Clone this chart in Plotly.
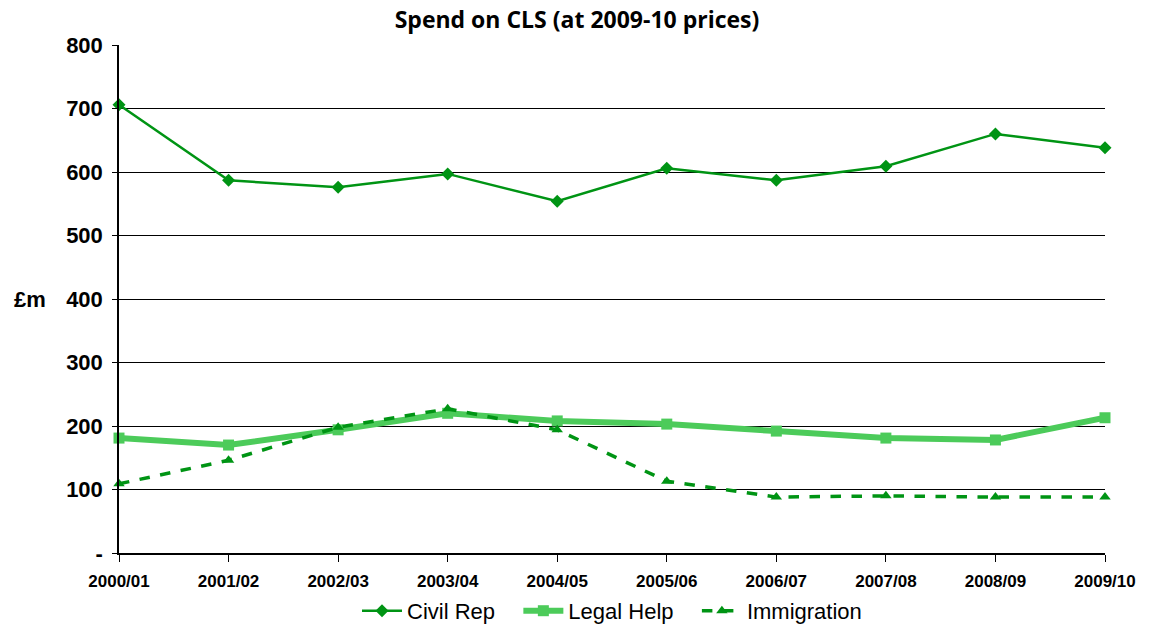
import plotly.graph_objects as go

years = ["2000/01", "2001/02", "2002/03", "2003/04", "2004/05",
         "2005/06", "2006/07", "2007/08", "2008/09", "2009/10"]
civil_rep = [706, 587, 576, 597, 554, 606, 587, 609, 660, 638]
legal_help = [181, 170, 194, 220, 208, 203, 192, 181, 178, 213]
immigration = [109, 146, 198, 227, 194, 113, 88, 90, 88, 88]
y_ticks = [0, 100, 200, 300, 400, 500, 600, 700, 800]
y_tick_labels = ["-", "100", "200", "300", "400", "500", "600", "700", "800"]

pad = "\u00a0\u00a0\u00a0"
fig = go.Figure()
fig.add_trace(go.Scatter(
    x=years, y=civil_rep, name="Civil Rep" + pad, mode="lines+markers",
    line=dict(color="#009414", width=2.5),
    marker=dict(symbol="diamond", size=10, color="#009414"),
    cliponaxis=False))
fig.add_trace(go.Scatter(
    x=years, y=legal_help, name="Legal Help" + pad, mode="lines+markers",
    line=dict(color="#4ccb5a", width=6),
    marker=dict(symbol="square", size=11, color="#4ccb5a"),
    cliponaxis=False))
fig.add_trace(go.Scatter(
    x=years, y=immigration, name="Immigration", mode="lines+markers",
    line=dict(color="#009414", width=3.5, dash="dash"),
    marker=dict(symbol="triangle-up", size=10, color="#009414"),
    cliponaxis=False))

fig.update_layout(
    width=1154, height=628,
    margin=dict(l=119, r=49, t=45, b=75, autoexpand=False),
    paper_bgcolor="white", plot_bgcolor="white",
    font=dict(family="Liberation Sans, Arial, sans-serif", color="black"),
    title=dict(text="<b>Spend on CLS (at 2009-10 prices)</b>",
               x=0.5, xanchor="center", y=0.968, yanchor="middle",
               font=dict(size=23, family="Open Sans, sans-serif")),
    showlegend=True,
    legend=dict(orientation="h", x=0.5, xanchor="center", y=-0.114,
                yanchor="middle", font=dict(size=22),
                itemwidth=40),
    xaxis=dict(
        range=[0, 9], showgrid=False, showline=True, linecolor="black",
        linewidth=1.5, ticks="outside", ticklen=7, tickcolor="black",
        tickfont=dict(size=17, family="Liberation Sans, Arial, sans-serif"),
        tickprefix="<b>", ticksuffix="</b>", zeroline=False,
        automargin=False, ticklabelstandoff=5),
    yaxis=dict(
        range=[0, 800], tickvals=y_ticks,
        ticktext=["<b>" + t + "</b>" for t in y_tick_labels],
        showgrid=True, gridcolor="black", gridwidth=1.2,
        showline=True, linecolor="black", linewidth=1.5,
        ticks="outside", ticklen=5, tickcolor="black",
        tickfont=dict(size=22), zeroline=False, automargin=False,
        ticklabelstandoff=5),
)
fig.add_annotation(text="<b>£m</b>", xref="paper", yref="paper", x=-0.09, y=0.5,
                   xanchor="center", yanchor="middle", showarrow=False,
                   font=dict(size=22))
fig.write_html("out.html")
